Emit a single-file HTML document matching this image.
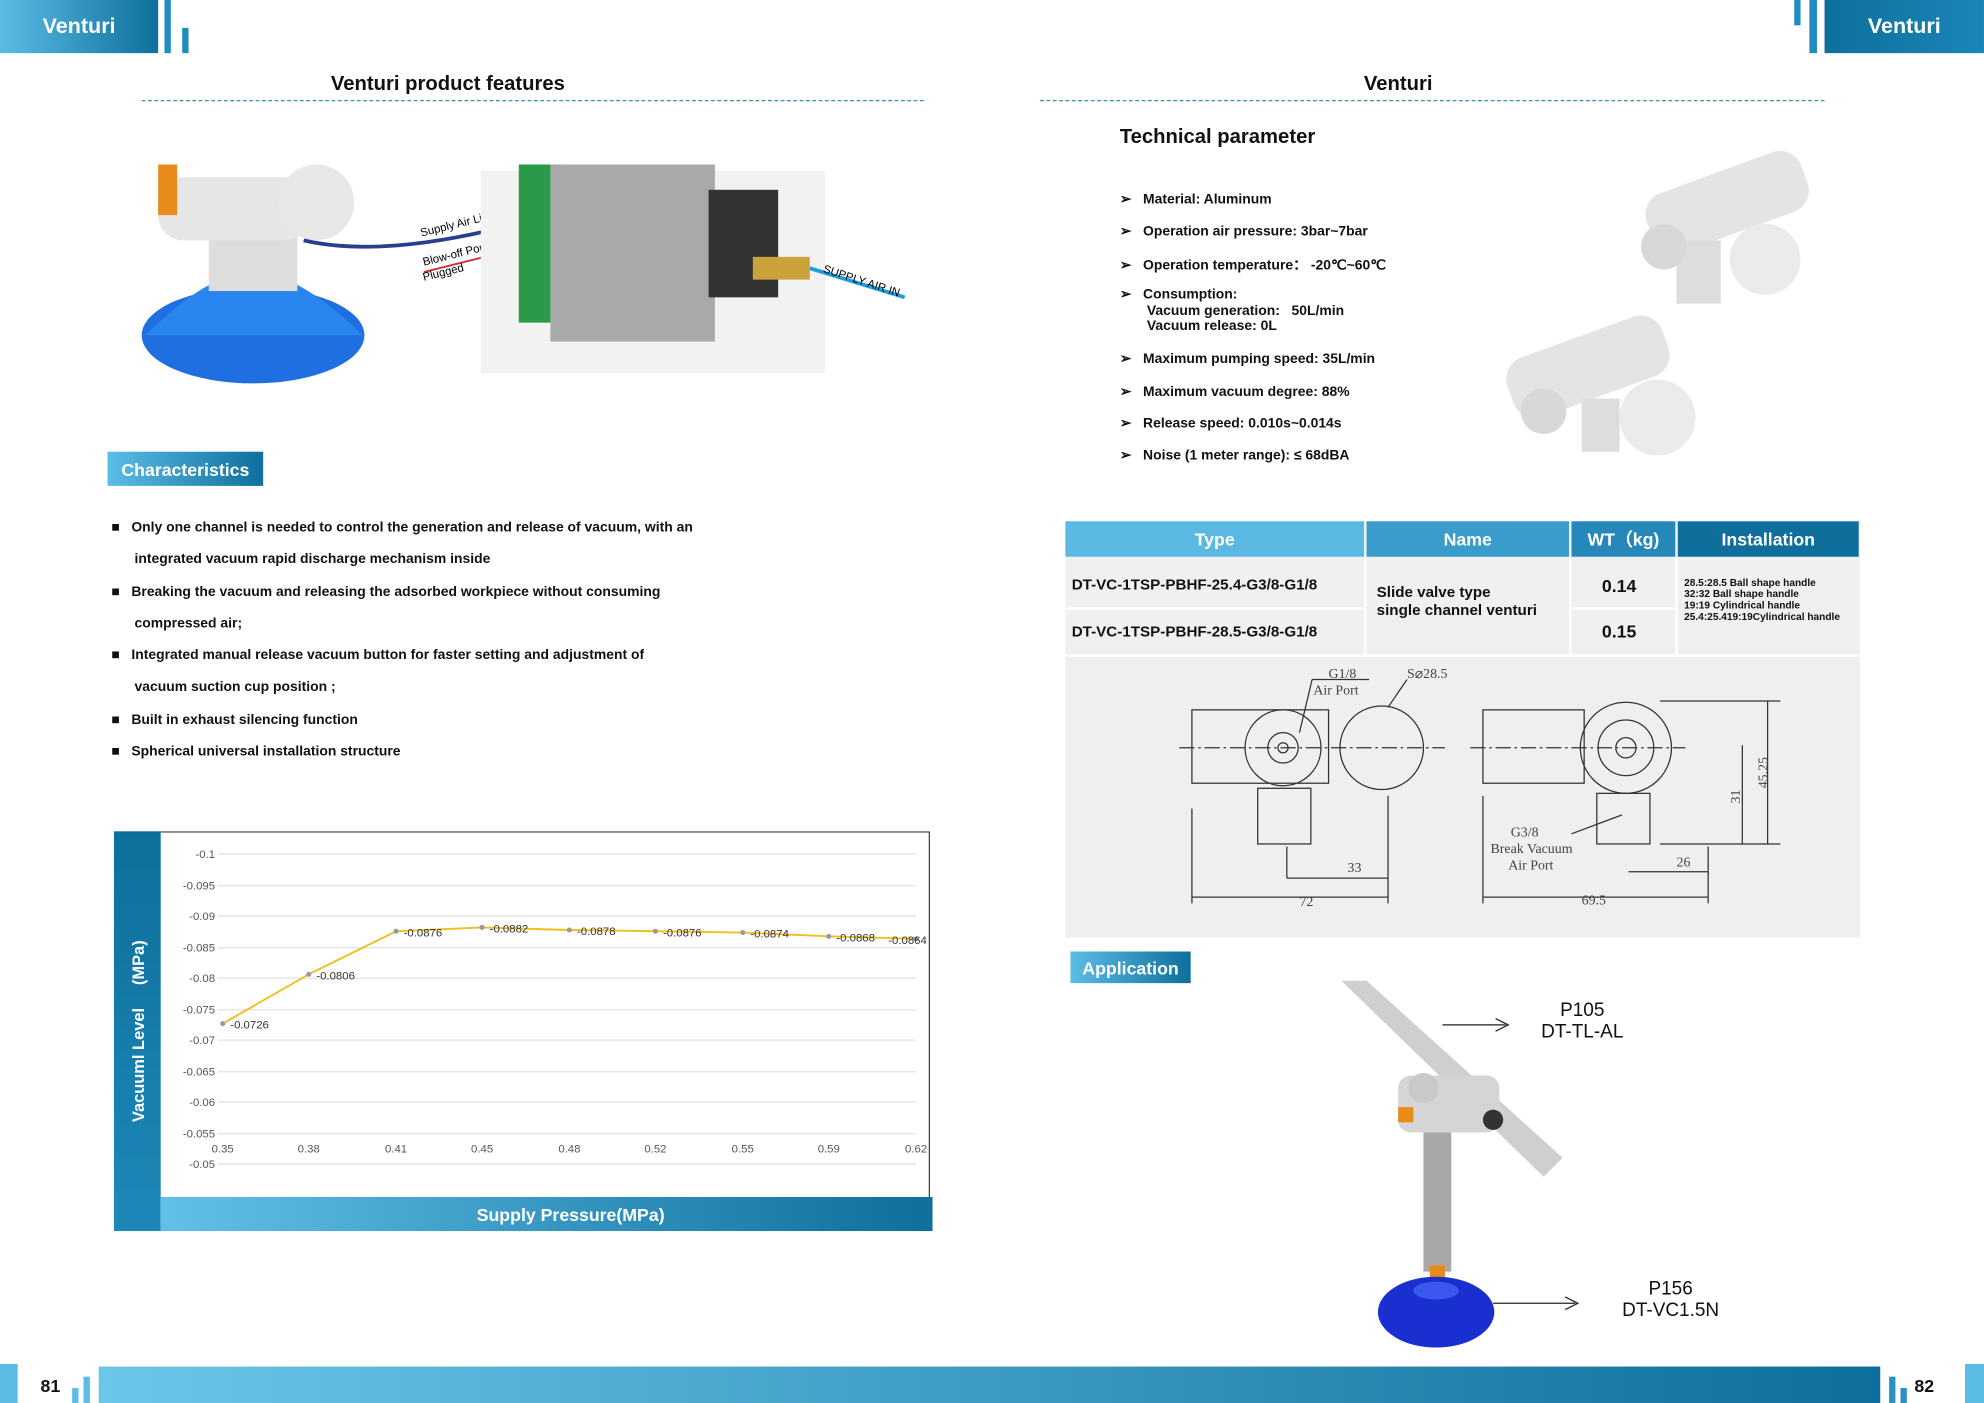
<!DOCTYPE html>
<html><head><meta charset="utf-8"><style>
html,body{margin:0;padding:0;background:#fff;width:1984px;height:1403px;overflow:hidden}
#w{position:absolute;left:0;top:0;width:1568px;height:1109px;transform:scale(1.2653);transform-origin:0 0;font-family:"Liberation Sans",sans-serif;color:#111}
.a{position:absolute}
.g{background:linear-gradient(90deg,#5bbde6,#0e6f9c)}
.b{font-weight:bold}
.lbl{color:#fff;font-weight:bold;font-size:14px;display:flex;align-items:center;justify-content:center}
.bl{font-size:11px;font-weight:bold}
.tp{font-size:11px;font-weight:bold;left:885px}
table{border-collapse:collapse}
</style></head><body><div id="w">
<!-- headers -->
<div class="a g lbl" style="left:0;top:0;width:125px;height:42px;font-size:17px">Venturi</div>
<div class="a" style="left:130px;top:0;width:5px;height:42px;background:#1f8cc0"></div>
<div class="a" style="left:144px;top:22px;width:5px;height:20px;background:#1f8cc0"></div>
<div class="a lbl" style="left:1442px;top:0;width:126px;height:42px;font-size:17px;background:linear-gradient(90deg,#0e6f9c,#1a86b8)">Venturi</div>
<div class="a" style="left:1418px;top:0;width:5px;height:20px;background:#1f8cc0"></div>
<div class="a" style="left:1430px;top:0;width:6px;height:42px;background:#1f8cc0"></div>
<div class="a b" style="left:112px;width:484px;top:58px;text-align:center;font-size:16px">Venturi product features</div>
<div class="a" style="left:112px;top:79px;width:618px;border-top:1px dashed #3a8fb8"></div>
<div class="a b" style="left:822px;width:566px;top:58px;text-align:center;font-size:16px">Venturi</div>
<div class="a" style="left:822px;top:79px;width:620px;border-top:1px dashed #3a8fb8"></div>
<!-- product image left -->
<svg class="a" style="left:105px;top:115px" width="620" height="195">
<ellipse cx="95" cy="150" rx="88" ry="38" fill="#1f6fe0"/><path d="M10 150 Q60 100 95 100 Q130 100 182 150Z" fill="#2a86ef"/>
<rect x="60" y="70" width="70" height="45" fill="#ddd"/><rect x="20" y="25" width="120" height="50" rx="20" fill="#e6e6e6"/>
<circle cx="145" cy="45" r="30" fill="#e8e8e8"/><rect x="20" y="15" width="15" height="40" fill="#e88b1a"/>
<path d="M135 75 Q200 90 310 60" stroke="#2a3e8e" stroke-width="3" fill="none"/>
<path d="M230 100 L310 80" stroke="#c33" stroke-width="1.5"/>
<text x="228" y="72" font-size="9" transform="rotate(-14 228 72)">Supply Air Line</text>
<text x="230" y="95" font-size="9" transform="rotate(-14 230 95)">Blow-off Port</text>
<text x="230" y="107" font-size="9" transform="rotate(-14 230 107)">Plugged</text>
<rect x="275" y="20" width="272" height="160" fill="#f2f2f2"/>
<rect x="305" y="15" width="30" height="125" fill="#2a9a48"/>
<rect x="330" y="15" width="130" height="140" fill="#a9a9a9"/>
<rect x="455" y="35" width="55" height="85" fill="#333"/>
<rect x="490" y="88" width="45" height="18" fill="#c9a23a"/>
<path d="M535 97 L610 120" stroke="#1aa0e0" stroke-width="3"/>
<text x="545" y="100" font-size="9" transform="rotate(18 545 100)">SUPPLY AIR IN</text>
</svg>
<div class="a g lbl" style="left:85px;top:357px;width:123px;height:27px">Characteristics</div>
<div class="a bl" style="left:88px;top:405px;line-height:25.3px">
■&nbsp;&nbsp;&nbsp;Only one channel is needed to control the generation and release of vacuum, with an<br>
&nbsp;&nbsp;&nbsp;&nbsp;&nbsp;&nbsp;integrated vacuum rapid discharge mechanism inside<br>
■&nbsp;&nbsp;&nbsp;Breaking the vacuum and releasing the adsorbed workpiece without consuming<br>
&nbsp;&nbsp;&nbsp;&nbsp;&nbsp;&nbsp;compressed air;<br>
■&nbsp;&nbsp;&nbsp;Integrated manual release vacuum button for faster setting and adjustment of<br>
&nbsp;&nbsp;&nbsp;&nbsp;&nbsp;&nbsp;vacuum suction cup position ;<br>
■&nbsp;&nbsp;&nbsp;Built in exhaust silencing function<br>
■&nbsp;&nbsp;&nbsp;Spherical universal installation structure</div>
<!-- chart -->
<svg class="a" style="left:90px;top:657px" width="647" height="316" font-family="Liberation Sans" font-size="9" fill="#555">
<rect x="0.5" y="0.5" width="644" height="314" fill="#fff" stroke="#444"/>
<defs><linearGradient id="v" x1="0" y1="0" x2="0" y2="1"><stop offset="0" stop-color="#0e6f9c"/><stop offset="1" stop-color="#1d88b8"/></linearGradient>
<linearGradient id="h" x1="0" y1="0" x2="1" y2="0"><stop offset="0" stop-color="#62c0e8"/><stop offset="1" stop-color="#0e6f9c"/></linearGradient></defs>
<rect x="0" y="0" width="37" height="316" fill="url(#v)"/>
<rect x="37" y="289" width="610" height="27" fill="url(#h)"/>
<text x="361" y="308" fill="#fff" font-size="14" font-weight="bold" text-anchor="middle">Supply Pressure(MPa)</text>
<text transform="translate(24 158) rotate(-90)" fill="#fff" font-size="13" font-weight="bold" text-anchor="middle">Vacuuml Level &#160;&#160;&#160;&#160;(MPa)</text>
<g stroke="#e2e2e2">
<line x1="82" y1="18" x2="634" y2="18"/><line x1="82" y1="43" x2="634" y2="43"/><line x1="82" y1="67" x2="634" y2="67"/><line x1="82" y1="92" x2="634" y2="92"/><line x1="82" y1="116" x2="634" y2="116"/><line x1="82" y1="141" x2="634" y2="141"/><line x1="82" y1="165" x2="634" y2="165"/><line x1="82" y1="190" x2="634" y2="190"/><line x1="82" y1="214" x2="634" y2="214"/><line x1="82" y1="239" x2="634" y2="239"/><line x1="82" y1="263" x2="634" y2="263"/></g>
<g text-anchor="end"><text x="80" y="21">-0.1</text><text x="80" y="46">-0.095</text><text x="80" y="70">-0.09</text><text x="80" y="95">-0.085</text><text x="80" y="119">-0.08</text><text x="80" y="144">-0.075</text><text x="80" y="168">-0.07</text><text x="80" y="193">-0.065</text><text x="80" y="217">-0.06</text><text x="80" y="242">-0.055</text><text x="80" y="266">-0.05</text></g>
<g text-anchor="middle"><text x="86" y="254">0.35</text><text x="154" y="254">0.38</text><text x="223" y="254">0.41</text><text x="291" y="254">0.45</text><text x="360" y="254">0.48</text><text x="428" y="254">0.52</text><text x="497" y="254">0.55</text><text x="565" y="254">0.59</text><text x="634" y="254">0.62</text></g>
<polyline points="86,152 154,113 223,79 291,76 360,78 428,79 497,80 565,83 634,85" fill="none" stroke="#f0be1e" stroke-width="1.5"/>
<g fill="#999"><circle cx="86" cy="152" r="2"/><circle cx="154" cy="113" r="2"/><circle cx="223" cy="79" r="2"/><circle cx="291" cy="76" r="2"/><circle cx="360" cy="78" r="2"/><circle cx="428" cy="79" r="2"/><circle cx="497" cy="80" r="2"/><circle cx="565" cy="83" r="2"/><circle cx="634" cy="85" r="2"/></g>
<g fill="#333"><text x="92" y="156">-0.0726</text><text x="160" y="117">-0.0806</text><text x="229" y="83">-0.0876</text><text x="297" y="80">-0.0882</text><text x="366" y="82">-0.0878</text><text x="434" y="83">-0.0876</text><text x="503" y="84">-0.0874</text><text x="571" y="87">-0.0868</text><text x="612" y="89">-0.0864</text></g>
</svg>
<!-- right page -->
<div class="a b" style="left:885px;top:100px;font-size:16px">Technical parameter</div>
<div class="a tp" style="top:151px">➢&nbsp;&nbsp;&nbsp;Material: Aluminum</div>
<div class="a tp" style="top:176px">➢&nbsp;&nbsp;&nbsp;Operation air pressure: 3bar~7bar</div>
<div class="a tp" style="top:201px">➢&nbsp;&nbsp;&nbsp;Operation temperature： -20℃~60℃</div>
<div class="a tp" style="top:227px;line-height:12.5px">➢&nbsp;&nbsp;&nbsp;Consumption:<br>&nbsp;&nbsp;&nbsp;&nbsp;&nbsp;&nbsp;&nbsp;Vacuum generation:&nbsp;&nbsp; 50L/min<br>&nbsp;&nbsp;&nbsp;&nbsp;&nbsp;&nbsp;&nbsp;Vacuum release: 0L</div>
<div class="a tp" style="top:277px">➢&nbsp;&nbsp;&nbsp;Maximum pumping speed: 35L/min</div>
<div class="a tp" style="top:303px">➢&nbsp;&nbsp;&nbsp;Maximum vacuum degree: 88%</div>
<div class="a tp" style="top:328px">➢&nbsp;&nbsp;&nbsp;Release speed: 0.010s~0.014s</div>
<div class="a tp" style="top:353px">➢&nbsp;&nbsp;&nbsp;Noise (1 meter range): ≤ 68dBA</div>
<svg class="a" style="left:1180px;top:115px" width="270" height="250">
<rect x="120" y="20" width="130" height="50" rx="18" fill="#e4e4e4" transform="rotate(-20 185 45)"/>
<circle cx="215" cy="90" r="28" fill="#ebebeb"/><rect x="145" y="75" width="35" height="50" fill="#ddd"/>
<circle cx="135" cy="80" r="18" fill="#d8d8d8"/>
<rect x="10" y="150" width="130" height="50" rx="18" fill="#e4e4e4" transform="rotate(-20 75 175)"/>
<circle cx="130" cy="215" r="30" fill="#ebebeb"/><rect x="70" y="200" width="30" height="42" fill="#ddd"/>
<circle cx="40" cy="210" r="18" fill="#d8d8d8"/>
</svg>
<div class="a" style="left:842px;top:412px;width:628px;height:105px;background:#f0f0f0"></div>
<div class="a lbl" style="left:842px;top:412px;width:236px;height:28px;background:#5ab8e3">Type</div>
<div class="a lbl" style="left:1080px;top:412px;width:160px;height:28px;background:#3a9ccb">Name</div>
<div class="a lbl" style="left:1242px;top:412px;width:82px;height:28px;background:#2588b8">WT（kg)</div>
<div class="a lbl" style="left:1326px;top:412px;width:143px;height:28px;background:#0e6f9c">Installation</div>
<div class="a" style="left:842px;top:480px;width:238px;border-top:2px solid #fff"></div>
<div class="a" style="left:1242px;top:480px;width:82px;border-top:2px solid #fff"></div>
<div class="a" style="left:1078px;top:440px;height:77px;border-left:2px solid #fff"></div>
<div class="a" style="left:1240px;top:440px;height:77px;border-left:2px solid #fff"></div>
<div class="a" style="left:1324px;top:440px;height:77px;border-left:2px solid #fff"></div>
<div class="a b" style="left:847px;top:455px;font-size:12px">DT-VC-1TSP-PBHF-25.4-G3/8-G1/8</div>
<div class="a b" style="left:847px;top:492px;font-size:12px">DT-VC-1TSP-PBHF-28.5-G3/8-G1/8</div>
<div class="a b" style="left:1088px;top:461px;font-size:12px;line-height:14px">Slide valve type<br>single channel venturi</div>
<div class="a b" style="left:1266px;top:455px;font-size:14px">0.14</div>
<div class="a b" style="left:1266px;top:491px;font-size:14px">0.15</div>
<div class="a b" style="left:1331px;top:456px;font-size:8px;line-height:9px">28.5:28.5 Ball shape handle<br>32:32 Ball shape handle<br>19:19 Cylindrical handle<br>25.4:25.419:19Cylindrical handle</div>
<div class="a" style="left:842px;top:519px;width:628px;height:222px;background:#efefef"></div>
<svg class="a" style="left:842px;top:519px" width="628" height="222" font-family="Liberation Serif" font-size="11" fill="#444" stroke="#333">
<g fill="none" stroke-width="1">
<rect x="100" y="42" width="108" height="58"/><circle cx="172" cy="72" r="30"/><circle cx="172" cy="72" r="12"/><circle cx="172" cy="72" r="4"/>
<circle cx="250" cy="72" r="33"/><rect x="152" y="104" width="42" height="44"/>
<rect x="330" y="42" width="80" height="58"/><circle cx="443" cy="72" r="36"/><circle cx="443" cy="72" r="22"/><circle cx="443" cy="72" r="8"/>
<rect x="420" y="108" width="42" height="40"/>
<line x1="100" y1="195" x2="100" y2="120"/><line x1="255" y1="195" x2="255" y2="110"/><line x1="100" y1="190" x2="255" y2="190"/>
<line x1="175" y1="175" x2="255" y2="175"/><line x1="175" y1="175" x2="175" y2="150"/>
<line x1="330" y1="195" x2="330" y2="110"/><line x1="508" y1="195" x2="508" y2="150"/><line x1="330" y1="190" x2="508" y2="190"/>
<line x1="445" y1="170" x2="508" y2="170"/>
<line x1="470" y1="35" x2="565" y2="35"/><line x1="470" y1="148" x2="565" y2="148"/><line x1="555" y1="35" x2="555" y2="148"/><line x1="535" y1="70" x2="535" y2="148"/>
<line x1="185" y1="60" x2="195" y2="18"/><line x1="195" y1="18" x2="240" y2="18"/><line x1="255" y1="40" x2="270" y2="18"/>
<line x1="400" y1="140" x2="440" y2="125"/>
<line x1="90" y1="72" x2="300" y2="72" stroke-dasharray="12 3 2 3"/><line x1="320" y1="72" x2="490" y2="72" stroke-dasharray="12 3 2 3"/>
</g>
<g stroke="none"><text x="208" y="17">G1/8</text><text x="196" y="30">Air Port</text><text x="270" y="17">S⌀28.5</text>
<text x="223" y="170">33</text><text x="185" y="197">72</text><text x="352" y="142">G3/8</text><text x="336" y="155">Break Vacuum</text><text x="350" y="168">Air Port</text>
<text x="483" y="166">26</text><text x="408" y="196">69.5</text>
<text transform="translate(555 104) rotate(-90)">45.25</text><text transform="translate(533 116) rotate(-90)">31</text></g>
</svg>
<div class="a g lbl" style="left:846px;top:752px;width:95px;height:25px">Application</div>
<svg class="a" style="left:1050px;top:775px" width="220" height="295">
<path d="M10 0 L30 0 L185 140 L170 155 Z" fill="#cfcfcf"/>
<rect x="55" y="75" width="80" height="45" rx="10" fill="#d5d5d5"/><circle cx="75" cy="85" r="12" fill="#c9c9c9"/>
<rect x="55" y="100" width="12" height="12" fill="#e88b1a"/><circle cx="130" cy="110" r="8" fill="#333"/>
<rect x="75" y="120" width="22" height="110" fill="#a8a8a8"/>
<rect x="80" y="225" width="12" height="10" fill="#e88b1a"/>
<ellipse cx="85" cy="262" rx="46" ry="28" fill="#1a2fd0"/><ellipse cx="85" cy="245" rx="18" ry="7" fill="#3a58f0"/>
</svg>
<svg class="a" style="left:1100px;top:800px" width="160" height="240"><path d="M40 10 L90 10" stroke="#222"/><path d="M82 5 L92 10 L82 15" stroke="#222" fill="none"/>
<path d="M80 230 L145 230" stroke="#222"/><path d="M137 225 L147 230 L137 235" stroke="#222" fill="none"/></svg>
<div class="a" style="left:1218px;top:790px;font-size:15px;text-align:center;line-height:17px">P105<br>DT-TL-AL</div>
<div class="a" style="left:1282px;top:1010px;font-size:15px;text-align:center;line-height:17px">P156<br>DT-VC1.5N</div>
<!-- footer -->
<div class="a" style="left:0;top:1078px;width:14px;height:31px;background:#5bbde6"></div>
<div class="a b" style="left:32px;top:1087px;font-size:14px">81</div>
<div class="a" style="left:57px;top:1097px;width:5px;height:12px;background:#5bbde6"></div>
<div class="a" style="left:66px;top:1088px;width:5px;height:21px;background:#5bbde6"></div>
<div class="a g" style="left:78px;top:1080px;width:1408px;height:29px;background:linear-gradient(90deg,#6cc6ea,#0e6f9c)"></div>
<div class="a" style="left:1493px;top:1088px;width:5px;height:21px;background:#2a90c0"></div>
<div class="a" style="left:1502px;top:1097px;width:5px;height:12px;background:#2a90c0"></div>
<div class="a b" style="left:1513px;top:1087px;font-size:14px">82</div>
<div class="a" style="left:1553px;top:1078px;width:15px;height:31px;background:#5bbde6"></div>
</div></body></html>
